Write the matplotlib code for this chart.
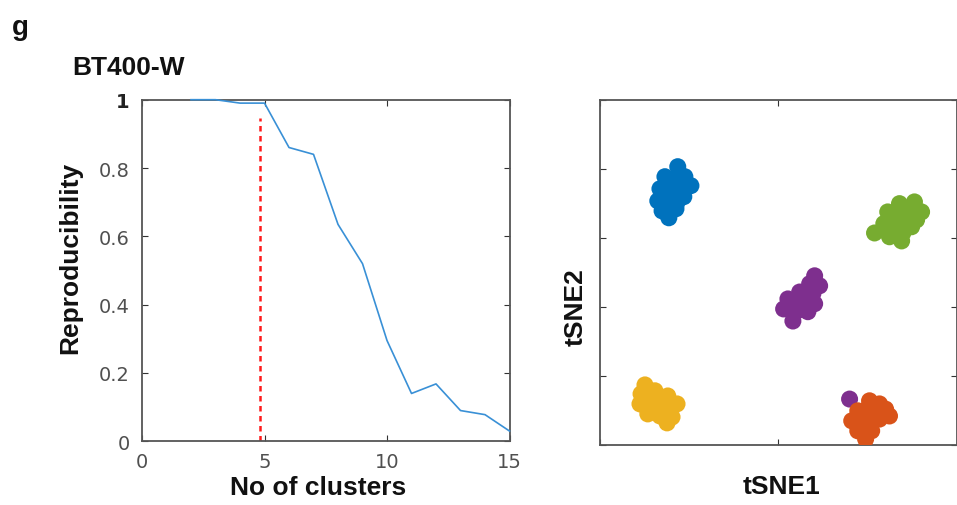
import matplotlib
matplotlib.use('Agg')
import matplotlib.pyplot as plt

# reproducibility vs number of clusters
n_clusters = [2, 3, 4, 5, 6, 7, 8, 9, 10, 11, 12, 13, 14, 15]
reproducibility = [1.0, 1.0, 0.99, 0.99, 0.86, 0.84, 0.635, 0.52, 0.295, 0.14, 0.168, 0.09, 0.078, 0.03]
chosen_k = 4.8
chosen_top = 0.945

tsne_colors = ['#0072BD', '#77AC30', '#7E2F8E', '#EDB120', '#D95319']
tsne_x = [
    [21.8, 18.2, 23.8, 16.8, 21.0, 25.5, 16.2, 20.2, 23.5, 17.4, 21.3, 19.3,
     20.5, 19.0, 22.0, 18.5, 21.5],
    [84.0, 88.2, 90.2, 80.7, 84.9, 88.8, 79.6, 83.8, 87.4, 77.0, 81.2, 84.6,
     86.0, 82.5, 86.0, 81.0, 85.0],
    [60.2, 58.8, 61.6, 56.0, 59.7, 52.7, 56.9, 60.2, 51.5, 55.2, 58.3, 54.1, 70.0,
     58.5, 55.0, 57.5, 53.5],
    [12.6, 11.5, 15.4, 19.0, 11.2, 14.6, 18.2, 21.6, 13.4, 16.8, 20.2, 18.8,
     14.0, 16.5, 13.0, 17.0, 15.5],
    [75.6, 78.4, 72.3, 76.2, 80.1, 70.6, 74.2, 78.4, 81.2, 72.3, 76.2, 74.5,
     75.0, 77.0, 73.5, 76.0, 74.0],
]
tsne_y = [
    [80.6, 77.7, 77.7, 74.2, 74.8, 75.1, 70.7, 71.3, 71.9, 67.8, 68.4, 65.8,
     77.0, 73.0, 73.5, 69.5, 70.0],
    [69.9, 70.4, 67.5, 67.5, 66.7, 65.2, 64.1, 63.2, 63.2, 61.4, 60.3, 59.1,
     68.0, 65.0, 65.0, 62.5, 61.5],
    [49.0, 46.7, 46.1, 44.3, 43.8, 42.3, 41.4, 40.9, 39.4, 38.8, 38.6, 35.9, 13.3,
     44.0, 41.0, 40.0, 40.0],
    [17.4, 14.8, 15.7, 14.2, 11.9, 11.9, 11.3, 11.9, 9.0, 8.4, 8.1, 6.4,
     13.5, 12.0, 11.0, 10.0, 9.5],
    [12.8, 11.9, 9.9, 9.9, 10.4, 7.0, 7.0, 7.5, 8.4, 4.1, 4.1, 1.7,
     10.5, 9.0, 8.5, 6.0, 5.5],
]
tsne_size = [150, 150, 150, 150, 150]

BOLD = dict(family='Liberation Sans', fontweight='bold', color='#111111')
TICKC = '#505050'
SPINE = '#555555'

fig = plt.figure(figsize=(9.57, 5.06), dpi=100)

def style_box(ax):
    for s in ax.spines.values():
        s.set_color(SPINE)
        s.set_linewidth(1.3)
    ax.tick_params(direction='in', length=4, width=0.8, color='#333333',
                   top=True, right=True, labelcolor=TICKC, labelsize=14)

# left panel
ax1 = fig.add_axes([0.1484, 0.1259, 0.3840, 0.6751])
ax1.plot(n_clusters, reproducibility, color='#3990d6', lw=1.2, clip_on=False, zorder=5)
ax1.plot([chosen_k, chosen_k], [0, chosen_top], color='#ff1a1a', lw=1.8,
         linestyle=(0, (2.2, 1.8)))
ax1.set_xlim(0, 15)
ax1.set_ylim(0, 1)
ax1.set_xticks([0, 5, 10, 15])
ax1.set_yticks([0, 0.2, 0.4, 0.6, 0.8, 1])
ax1.set_yticklabels(['0', '0.2', '0.4', '0.6', '0.8', '1'])
style_box(ax1)
ax1.get_yticklabels()[-1].set_fontweight('bold')
ax1.get_yticklabels()[-1].set_color('#222222')
ax1.tick_params(axis='x', pad=8)
ax1.tick_params(axis='y', pad=9)
ax1.set_xlabel('No of clusters', fontsize=19, **BOLD)
ax1.set_ylabel('Reproducibility', fontsize=19, **BOLD)
ax1.xaxis.set_label_coords(0.48, -0.099)
ax1.yaxis.set_label_coords(-0.163, 0.541)

# right panel
ax2 = fig.add_axes([0.6270, 0.1186, 0.3725, 0.6824])
for xs, ys, c, sz in zip(tsne_x, tsne_y, tsne_colors, tsne_size):
    ax2.scatter(xs, ys, s=sz, color=c, edgecolors='none', zorder=3)
ax2.set_xlim(0, 100)
ax2.set_ylim(0, 100)
ax2.set_xticks([0, 50, 100])
ax2.set_yticks([0, 20, 40, 60, 80, 100])
style_box(ax2)
ax2.tick_params(labelbottom=False, labelleft=False)
ax2.set_xlabel('tSNE1', fontsize=19, **BOLD)
ax2.set_ylabel('tSNE2', fontsize=19, **BOLD)
ax2.xaxis.set_label_coords(0.51, -0.085)
ax2.yaxis.set_label_coords(-0.036, 0.401)

fig.text(0.012, 0.931, 'g', fontsize=20, **BOLD)
fig.text(0.076, 0.852, 'BT400-W', fontsize=19, **BOLD)

fig.savefig('out.png', dpi=100)
